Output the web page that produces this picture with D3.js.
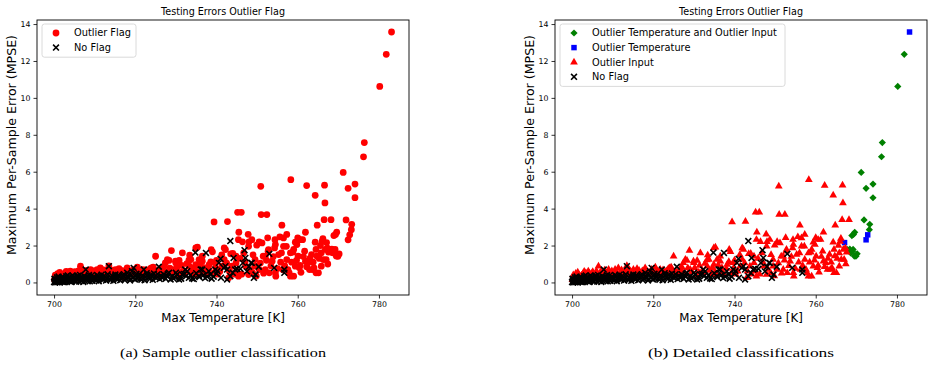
<!DOCTYPE html>
<meta charset="utf-8">
<script src="https://d3js.org/d3.v7.min.js"></script>
<style>
  body { margin: 0; background: #fff; }
  text { font-family: "DejaVu Sans", sans-serif; fill: #000; }
</style>
<div id="my_dataviz"></div>
<script>

// tick labels
var xTicks = [700, 720, 740, 760, 780]
var yTicks = [0, 2, 4, 6, 8, 10, 12, 14]

// [max temperature, MPSE], one array per class
var outlierBoth = [
  [767.8,1.78],[768.4,1.80],[768.6,1.60],[768.9,2.54],[769.1,1.69],[769.2,1.79],[769.3,2.60],
  [769.5,1.43],[769.6,2.72],[769.9,1.42],[770.2,1.55],[771.2,5.96],[771.9,3.39],[772.4,5.10],
  [773.2,2.86],[773.3,3.15],[774.1,5.33],[774.1,4.59],[776.2,6.81],[776.4,7.58],[780.2,10.62],
  [781.8,12.36]
]
var outlierTemp = [[767.1,2.16],[772.4,2.31],[772.8,2.58],[783.1,13.57]]
var outlierInput = [
  [700.1,0.15],[700.5,0.28],[700.8,0.34],[701.2,0.05],[701.6,0.43],[702.0,0.18],[702.4,0.38],
  [702.8,0.52],[703.2,0.25],[703.6,0.45],[704.0,0.61],[704.5,0.33],[704.9,0.50],[705.3,0.20],
  [705.8,0.46],[706.2,0.30],[706.5,0.88],[707.0,0.55],[707.3,0.61],[707.8,0.40],[708.3,0.52],
  [708.9,0.61],[709.0,0.70],[709.5,0.28],[710.0,0.48],[710.6,0.70],[711.0,0.38],[711.4,0.79],
  [712.0,0.55],[712.5,0.32],[713.0,0.62],[713.5,0.90],[714.0,0.45],[714.5,0.58],[715.1,0.70],
  [715.6,0.40],[716.1,0.55],[716.5,0.65],[717.0,0.30],[717.5,0.50],[718.0,0.79],[718.4,0.62],
  [719.0,0.45],[719.6,0.70],[720.0,0.55],[720.5,0.83],[721.0,0.35],[721.7,0.70],[722.1,0.58],
  [722.6,0.45],[723.2,0.62],[723.7,0.75],[724.0,0.79],[724.4,0.83],[724.8,0.52],[725.0,1.42],
  [700.3,0.40],[700.9,0.48],[701.4,0.55],[701.9,0.36],[702.6,0.45],[703.0,0.60],[703.4,0.52],
  [703.8,0.35],[704.3,0.50],[704.7,0.42],[705.1,0.58],[705.6,0.36],[706.0,0.62],[706.8,0.48],
  [707.6,0.52],[708.0,0.66],[708.6,0.45],[709.3,0.55],[709.8,0.62],[710.3,0.40],[710.9,0.60],
  [711.7,0.50],[712.2,0.68],[712.8,0.48],[713.3,0.55],[713.8,0.70],[714.3,0.62],[714.8,0.48],
  [715.4,0.58],[716.0,0.75],[716.8,0.50],[717.3,0.62],[717.8,0.42],[718.6,0.55],[719.3,0.60],
  [719.9,0.48],[720.8,0.62],[721.3,0.52],[721.9,0.46],[722.4,0.68],[722.9,0.55],[723.5,0.48],
  [724.2,0.60],[724.6,0.70],
  [725.5,0.62],[726.2,0.50],[727.0,0.85],[727.4,1.06],[727.9,1.24],[728.3,1.19],[728.9,1.73],
  [729.1,0.70],[729.9,1.15],[730.0,1.06],[730.8,1.19],[731.2,0.55],[731.6,1.60],[732.3,0.52],
  [733.2,1.21],[733.3,0.88],[733.4,1.48],[733.7,1.24],[734.4,0.45],[734.9,1.87],[734.9,0.97],
  [735.3,1.91],[735.6,0.43],[735.7,1.24],[736.5,1.15],[736.5,1.42],[737.0,0.55],[738.2,0.97],
  [738.6,1.12],[738.7,1.78],[739.0,1.66],[739.4,3.28],[739.7,1.06],[739.8,0.79],[740.3,0.45],
  [741.4,0.88],[741.9,1.24],[741.9,1.87],[742.2,1.78],[742.7,3.30],[743.0,0.25],[743.5,1.55],
  [743.8,0.88],[744.0,1.57],[744.8,1.06],[744.8,1.42],[745.2,3.80],[745.4,2.32],[745.4,0.34],
  [745.5,2.72],[746.1,3.80],[746.4,2.20],[746.7,1.60],
  [725.8,0.40],[726.5,0.72],[727.2,0.60],[727.8,0.45],[728.5,0.78],[729.5,0.58],[730.2,0.80],
  [730.6,0.40],[731.4,0.92],[732.0,0.62],[732.7,1.02],[733.9,0.65],[734.6,0.80],[735.2,0.58],
  [736.0,0.95],[736.9,0.80],[737.5,0.42],[738.0,0.75],[739.2,0.50],[740.0,1.20],[740.8,0.60],
  [741.3,1.50],[742.5,1.05],[743.2,0.60],[744.2,0.45],[745.0,0.60],[745.8,1.30],[746.2,0.45],
  [747.2,0.88],[747.8,2.61],[747.9,1.96],
  [747.9,0.43],[748.0,2.20],[748.7,2.32],[748.9,0.52],[749.5,1.24],[749.5,0.88],[749.9,2.02],
  [750.5,0.70],[750.5,2.20],[750.9,5.21],[751.0,3.68],[751.2,2.14],[751.5,1.42],[752.0,1.42],
  [752.0,0.70],[752.4,3.68],[752.6,2.42],[752.7,1.69],[752.8,1.78],[753.0,0.52],[753.7,1.15],
  [754.3,1.87],[754.4,2.32],[754.5,2.05],[754.5,0.52],[754.6,0.34],[755.3,1.51],[755.6,2.47],
  [756.0,1.60],[756.1,3.10],[756.3,0.70],[756.5,1.96],[756.5,2.41],[757.2,1.96],[757.3,1.24],
  [757.3,2.60],[757.9,0.52],[758.2,0.34],[758.2,1.60],[758.3,5.57],[758.8,1.64],[759.0,0.34],
  [759.0,1.79],[759.4,0.88],[759.4,2.18],[759.8,2.05],[760.0,2.42],[760.1,1.42],[760.4,0.79],
  [760.6,0.92],[760.6,2.32],[761.2,2.32],[761.7,1.69],[761.9,1.15],[761.9,2.72],[762.2,5.25],
  [762.5,1.06],[762.9,0.70],[763.4,1.51],[763.6,0.70],[764.0,0.79],[764.3,4.72],[764.3,2.18],
  [764.5,0.52],[764.5,1.79],[764.7,1.43],[764.8,3.10],[765.1,0.52],[765.8,1.60],[765.8,0.88],
  [766.0,2.22],[766.2,2.38],[766.3,1.24],[766.5,3.40],[766.6,5.27],[766.7,4.31],[766.8,1.79],
  [767.0,1.24],[767.3,1.86],[767.6,1.64],[768.2,3.40],
  [747.0,1.10],[748.3,0.70],[749.0,1.50],[749.8,0.35],[750.8,1.05],[751.6,0.50],[752.3,1.20],
  [753.4,0.90],[754.0,1.40],[755.0,0.75],[755.8,1.10],[756.8,0.90],[757.6,0.70],[758.5,1.10],
  [759.7,1.20],[760.8,0.55],[761.4,1.40],[762.2,0.85],[763.0,1.30],[763.8,1.10],[765.3,1.30],
  [765.6,2.00],[767.4,1.00]
]
var noFlag = [
  [700.0,0.02],[700.2,0.10],[700.4,0.05],[700.6,0.18],[700.8,0.01],[701.0,0.12],[701.3,0.24],
  [701.5,0.06],[701.8,0.15],[702.0,0.30],[702.2,0.03],[702.5,0.20],[702.8,0.09],[703.0,0.33],
  [703.3,0.14],[703.6,0.27],[703.9,0.05],[704.2,0.19],[704.5,0.38],[704.8,0.11],[705.1,0.25],
  [705.4,0.04],[705.7,0.32],[706.0,0.16],[706.4,0.41],[706.7,0.08],[707.0,0.22],[707.4,0.35],
  [707.8,0.70],[708.1,0.13],[708.4,0.29],[708.8,0.06],[709.2,0.37],[709.6,0.18],[710.0,0.26],
  [710.4,0.10],[710.8,0.33],[711.2,0.20],[711.7,0.42],[712.1,0.14],[712.6,0.30],[713.0,0.22],
  [713.5,0.88],[713.9,0.12],[714.3,0.36],[714.8,0.24],[715.1,0.43],[715.6,0.16],[716.0,0.31],
  [716.5,0.21],[717.0,0.38],[717.4,0.13],[718.0,0.52],[718.4,0.27],[718.9,0.18],[719.2,0.61],
  [719.6,0.79],[720.0,0.34],[720.5,0.22],[721.0,0.45],[721.5,0.15],[722.1,0.70],[722.5,0.29],
  [723.0,0.40],[723.6,0.19],[724.1,0.33],[724.6,0.48],[725.2,0.24],[725.8,0.85],[726.3,0.37],
  [726.6,0.25],[727.0,0.44],[727.9,0.34],[728.3,0.52],[728.7,0.16],[729.1,0.34],[729.8,0.28],
  [730.3,0.43],[730.8,0.16],[731.6,0.43],[732.3,0.70],[732.5,0.34],[732.8,0.61],[733.2,0.25],
  [734.0,0.22],[734.8,1.62],[735.6,0.34],[735.8,0.30],[736.1,0.70],[736.5,0.70],[737.4,1.60],
  [737.7,0.31],[738.1,0.61],[738.5,0.43],[739.3,0.31],[739.7,0.70],[740.6,1.06],[741.0,1.28],
  [741.1,0.25],[741.8,0.79],[742.2,0.88],[742.6,0.16],[742.6,0.70],[743.4,0.34],[743.4,2.24],
  [744.2,1.33],[744.6,0.70],[745.1,0.74],[745.9,0.74],[746.5,1.06],[746.9,1.75],[747.1,1.33],
  [748.5,1.06],[748.7,1.06],[749.2,0.25],[749.6,0.43],[750.4,0.85],[753.0,1.55],[754.2,0.79],
  [756.7,0.70],[756.7,0.52],
  [700.1,0.20],[700.3,0.00],[700.5,0.14],[700.7,0.27],[700.9,0.08],[701.1,0.32],[701.4,0.00],
  [701.6,0.19],[701.9,0.04],[702.1,0.12],[702.3,0.26],[702.6,0.01],[702.9,0.21],[703.1,0.06],
  [703.4,0.38],[703.7,0.10],[704.0,0.28],[704.3,0.02],[704.6,0.22],[704.9,0.31],[705.2,0.09],
  [705.5,0.17],[705.9,0.36],[706.2,0.05],[706.5,0.27],[706.9,0.14],[707.2,0.03],[707.6,0.19],
  [707.9,0.30],[708.3,0.07],[708.6,0.40],[709.0,0.21],[709.4,0.09],[709.8,0.32],[710.2,0.15],
  [710.6,0.41],[711.0,0.07],[711.4,0.28],[711.9,0.17],[712.3,0.36],[712.8,0.10],[713.2,0.44],
  [713.7,0.19],[714.1,0.27],[714.6,0.09],[715.0,0.33],[715.4,0.22],[715.8,0.40],[716.3,0.12],
  [716.8,0.29],[717.2,0.45],[717.7,0.20],[718.2,0.35],[718.7,0.11],[719.0,0.42],[719.4,0.25],
  [719.9,0.16],[720.3,0.47],[720.8,0.30],[721.2,0.21],[721.8,0.38],[722.3,0.12],[722.8,0.50],
  [723.3,0.26],[723.8,0.42],[724.3,0.14],[724.8,0.29],[725.5,0.45],[726.0,0.18],[726.9,0.30],
  [727.5,0.20],[728.0,0.47],[729.4,0.22],[730.0,0.52],[731.0,0.30],[731.3,0.20],[732.0,0.46],
  [733.6,0.40],[734.4,0.18],[735.0,0.50],[736.8,0.40],[737.2,0.24],[738.8,0.20],[740.0,0.48],
  [740.2,0.62],[744.0,0.52],[747.5,0.60],[748.0,0.85]
]

var outlierFlag = outlierBoth.concat(outlierTemp, outlierInput)

var width = 934, height = 385

var svg = d3.select("#my_dataviz")
  .append("svg")
    .attr("width", width)
    .attr("height", height)

var x0 = d3.scaleLinear().domain([695.8, 787.4])
var y = d3.scaleLinear().domain([-0.68, 14.22]).range([295, 20])

var sym = {
  circle: { type: d3.symbolCircle, size: 36, fill: "#ff0000" },
  x: { type: d3.symbolX, size: 24, stroke: "#000" },
  diamond: { type: d3.symbolSquare, size: 26, fill: "#008000", rotate: 45 },
  square: { type: d3.symbolSquare, size: 30, fill: "#0000ff" },
  triangle: { type: d3.symbolTriangle, size: 26, fill: "#ff0000" }
}

function putMarks(g, data, s, x) {
  g.append("g").selectAll("path")
    .data(data)
    .enter().append("path")
      .attr("transform", function(d) {
        return "translate(" + x(d[0]) + "," + y(d[1]) + ")" + (s.rotate ? "rotate(" + s.rotate + ")" : "")
      })
      .attr("d", d3.symbol().type(s.type).size(s.size))
      .attr("fill", s.fill || "none")
      .attr("stroke", s.stroke || "none")
      .attr("stroke-width", s.stroke ? 1.6 : 0)
}

function drawPanel(left, right, series, legendW, caption, capW) {
  var x = x0.copy().range([left, right])
  var g = svg.append("g")
  var mid = (left + right) / 2

  series.forEach(function(s) { putMarks(g, s.data, sym[s.sym], x) })

  // frame
  g.append("rect")
    .attr("x", left).attr("y", 20)
    .attr("width", right - left).attr("height", 275)
    .attr("fill", "none").attr("stroke", "#000").attr("stroke-width", 0.9)

  var xa = g.append("g")
    .attr("transform", "translate(0,295)")
    .call(d3.axisBottom(x).tickValues(xTicks).tickSize(3.5).tickPadding(3))
  var ya = g.append("g")
    .attr("transform", "translate(" + left + ",0)")
    .call(d3.axisLeft(y).tickValues(yTicks).tickSize(3.5).tickPadding(3))
  ;[xa, ya].forEach(function(a) {
    a.select(".domain").remove()
    a.selectAll("line").attr("stroke", "#000").attr("stroke-width", 0.8)
    a.selectAll("text").style("font-size", "7.8px").style("font-family", "DejaVu Sans")
  })

  g.append("text")
    .attr("x", mid).attr("y", 15)
    .attr("text-anchor", "middle")
    .style("font-size", "9.6px")
    .text("Testing Errors Outlier Flag")

  g.append("text")
    .attr("x", mid).attr("y", 321.5)
    .attr("text-anchor", "middle")
    .style("font-size", "11.8px")
    .text("Max Temperature [K]")

  g.append("text")
    .attr("transform", "translate(" + (left - 21) + ",145)rotate(-90)")
    .attr("text-anchor", "middle")
    .style("font-size", "12.6px")
    .text("Maximum Per-Sample Error (MPSE)")

  // legend
  var lg = g.append("g").attr("transform", "translate(" + (left + 5) + ",24)")
  lg.append("rect")
    .attr("width", legendW).attr("height", 4 + series.length * 14.6)
    .attr("rx", 2.5)
    .attr("fill", "#fff").attr("fill-opacity", 0.8)
    .attr("stroke", "#d0d0d0").attr("stroke-width", 0.8)
  series.forEach(function(s, i) {
    var st = sym[s.sym]
    var cy = 9 + i * 14.6
    lg.append("path")
      .attr("transform", "translate(14," + cy + ")" + (st.rotate ? "rotate(" + st.rotate + ")" : ""))
      .attr("d", d3.symbol().type(st.type).size(st.size))
      .attr("fill", st.fill || "none")
      .attr("stroke", st.stroke || "none")
      .attr("stroke-width", st.stroke ? 1.6 : 0)
    lg.append("text")
      .attr("x", 32).attr("y", cy)
      .attr("dy", "0.35em")
      .style("font-size", "9.8px")
      .text(s.name)
  })

  svg.append("text")
    .attr("x", mid).attr("y", 357)
    .attr("text-anchor", "middle")
    .attr("textLength", capW)
    .attr("lengthAdjust", "spacingAndGlyphs")
    .style("font-family", "Liberation Serif, serif")
    .style("font-size", "12.5px")
    .text(caption)
}

drawPanel(37, 409, [
  { name: "Outlier Flag", sym: "circle", data: outlierFlag },
  { name: "No Flag", sym: "x", data: noFlag }
], 94, "(a) Sample outlier classification", 206)

// legend order, drawn in the same order so black crosses sit on top
drawPanel(555, 927, [
  { name: "Outlier Temperature and Outlier Input", sym: "diamond", data: outlierBoth },
  { name: "Outlier Temperature", sym: "square", data: outlierTemp },
  { name: "Outlier Input", sym: "triangle", data: outlierInput },
  { name: "No Flag", sym: "x", data: noFlag }
], 225, "(b) Detailed classifications", 186)

</script>
